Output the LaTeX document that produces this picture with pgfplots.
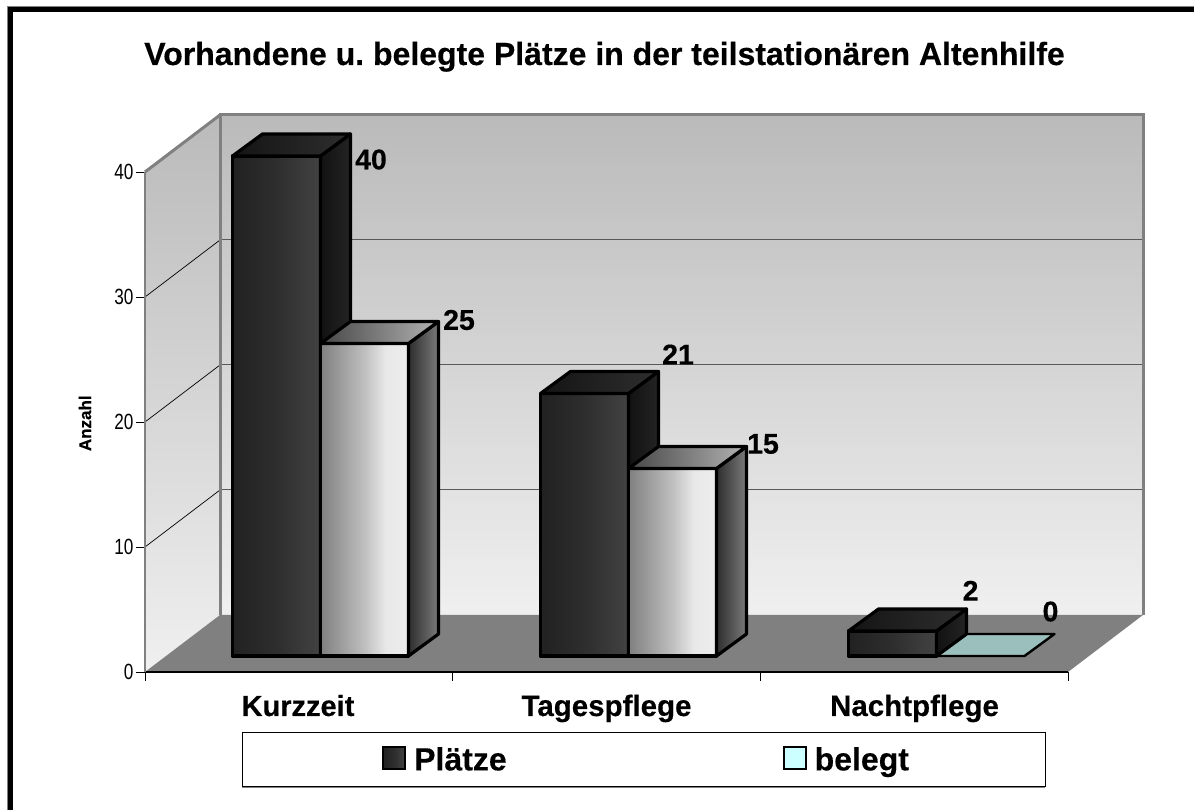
\documentclass[border=0pt]{standalone}
\usepackage{pgfplots}
\pgfplotsset{compat=1.18}
\usepackage{fontspec}
\setmainfont[BoldFeatures={FakeBold=0.35}]{Liberation Sans}
\frenchspacing
\definecolor{wallgray}{HTML}{808080}
\pgfdeclarehorizontalshading{darkfront}{100bp}{color(0bp)=(black!86); color(25bp)=(black!87); color(50bp)=(black!82); color(75bp)=(black!74); color(100bp)=(black!74)}
\pgfdeclarehorizontalshading{darkside}{100bp}{color(0bp)=(black!93); color(25bp)=(black!93); color(75bp)=(black!86); color(100bp)=(black!86)}
\pgfdeclarehorizontalshading{darktop}{100bp}{color(0bp)=(black!92); color(25bp)=(black!92); color(75bp)=(black!82); color(100bp)=(black!82)}
\pgfdeclarehorizontalshading{lightfront}{100bp}{color(0bp)=(black!50); color(25bp)=(black!50); color(50bp)=(black!25); color(62bp)=(black!9); color(75bp)=(black!7); color(100bp)=(black!7)}
\pgfdeclarehorizontalshading{lightside}{100bp}{color(0bp)=(black!82); color(25bp)=(black!82); color(75bp)=(black!52); color(100bp)=(black!52)}
\pgfdeclarehorizontalshading{lighttop}{100bp}{color(0bp)=(black!72); color(25bp)=(black!72); color(75bp)=(black!30); color(100bp)=(black!30)}
\pgfdeclareverticalshading{wallshade}{100bp}{color(0bp)=(black!6); color(25bp)=(black!6); color(75bp)=(black!27); color(100bp)=(black!27)}
% one 3D column: left x, right x, value, front/side/top shadings (x in picture units, y in data units)
\newcommand{\threedbar}[6]{%
 \pgfmathsetmacro\yb{1.28}\pgfmathsetmacro\yB{3.04}%
 \pgfmathsetmacro\yt{1.28+#3}\pgfmathsetmacro\yT{3.04+#3}%
 \pgfmathsetmacro\xA{#1+30}\pgfmathsetmacro\xB{#2+30}%
 \edef\tmp{\noexpand\addplot[forget plot,draw=black,line width=3.2pt,line join=round,shading=#4] coordinates {(#1,\yb)(#2,\yb)(#2,\yt)(#1,\yt)} -- cycle;
 \noexpand\addplot[forget plot,draw=black,line width=3.2pt,line join=round,shading=#5] coordinates {(#2,\yb)(\xB,\yB)(\xB,\yT)(#2,\yt)} -- cycle;
 \noexpand\addplot[forget plot,draw=black,line width=3.2pt,line join=round,shading=#6] coordinates {(#1,\yt)(#2,\yt)(\xB,\yT)(\xA,\yT)} -- cycle;}\tmp}
\begin{document}
\begin{tikzpicture}[x=1pt,y=1pt]
\begin{axis}[
  at={(145pt,138pt)},anchor=origin,
  scale only axis,width=923pt,height=500pt,
  xmin=145,xmax=1068,ymin=0,ymax=40,
  clip=false,axis on top,
  axis x line*=bottom,axis y line*=left,
  x axis line style={black,line width=1.2pt,-},
  y axis line style={wallgray,line width=1.6pt,-},
  xtick={145,452.67,760.33,1068},xticklabels={},
  ytick={0,10,20,30,40},
  tick align=outside,
  x tick style={black,line width=0.9pt},
  y tick style={black,line width=0.9pt},
  major tick length=9pt,
  yticklabel style={font=\fontsize{22}{22}\selectfont,xscale=0.78,inner sep=3pt},
  /pgf/number format/assume math mode=true,
  legend style={at={(axis cs:382,-7)},anchor=west,legend columns=2,draw=none,fill=none,
    font=\fontsize{32}{32}\selectfont\bfseries,inner sep=0pt},
  legend cell align=left,
]
% canvas and outer frame (top and left only)
\addplot[forget plot,draw=none,fill=white] coordinates {(0,53.76)(1194,53.76)(1194,-11.04)(0,-11.04)} -- cycle;
\addplot[forget plot,draw=black!50,line width=1pt] coordinates {(7.5,-11.04)(7.5,53.26)(1194,53.26)};
\addplot[forget plot,draw=black,line width=5pt] coordinates {(10.5,-11.04)(10.5,53)(1194,53)};
% walls and floor
\addplot[forget plot,draw=none,shading=wallshade] coordinates {(220,4.56)(1143,4.56)(1143,44.56)(220,44.56)} -- cycle;
\addplot[forget plot,draw=none,shading=wallshade] coordinates {(145,0)(220,4.56)(220,44.56)(145,40)} -- cycle;
\addplot[forget plot,draw=none,fill=wallgray] coordinates {(145,0)(1068,0)(1143,4.56)(220,4.56)} -- cycle;
% gridlines
\addplot[forget plot,black!65,line width=1pt] coordinates {(220,14.56)(1143,14.56)};
\addplot[forget plot,black!65,line width=1pt] coordinates {(220,24.56)(1143,24.56)};
\addplot[forget plot,black!65,line width=1pt] coordinates {(220,34.56)(1143,34.56)};
\addplot[forget plot,black,line width=0.7pt] coordinates {(145,10)(220,14.56)};
\addplot[forget plot,black,line width=0.7pt] coordinates {(145,20)(220,24.56)};
\addplot[forget plot,black,line width=0.7pt] coordinates {(145,30)(220,34.56)};
% wall edges
\addplot[forget plot,wallgray,line width=3pt] coordinates {(220,4.56)(220,44.56)(1143,44.56)(1143,4.56)};
\addplot[forget plot,wallgray,line width=3pt] coordinates {(145,40)(220,44.56)};
% columns
\threedbar{232.5}{320.5}{40}{darkfront}{darkside}{darktop}
\threedbar{320.5}{408.5}{25}{lightfront}{lightside}{lighttop}
\threedbar{540.5}{628.5}{21}{darkfront}{darkside}{darktop}
\threedbar{628.5}{716.5}{15}{lightfront}{lightside}{lighttop}
\addplot[forget plot,draw=black,line width=2.4pt,line join=round,fill={rgb,255:red,155;green,191;blue,189}] coordinates {(936.5,1.28)(1024.5,1.28)(1054.5,3.04)(966.5,3.04)} -- cycle;
\threedbar{848.5}{936.5}{2}{darkfront}{darkside}{darktop}
% legend box
\addplot[forget plot,draw=black!50,line width=1pt] coordinates {(242,-9.22)(1045,-9.22)};
\addplot[forget plot,draw=black,line width=0.9pt] coordinates {(242,-4.8)(1045,-4.8)(1045,-9.15)(242,-9.15)} -- cycle;
% value labels
\begin{scope}[every node/.style={font=\fontsize{28.5}{28.5}\selectfont\bfseries,inner sep=0pt}]
\node at (axis cs:371,41) {40};
\node at (axis cs:459,28.16) {25};
\node at (axis cs:678,25.4) {21};
\node at (axis cs:763,18.24) {15};
\node at (axis cs:970.5,6.5) {2};
\node at (axis cs:1050.5,4.84) {0};
\node[font=\fontsize{29}{29}\selectfont\bfseries,anchor=base] at (axis cs:298,-3.52) {Kurzzeit};
\node[font=\fontsize{29.5}{29.5}\selectfont\bfseries,anchor=base] at (axis cs:606.5,-3.52) {Tagespflege};
\node[font=\fontsize{29.5}{29.5}\selectfont\bfseries,anchor=base] at (axis cs:914.5,-3.52) {Nachtpflege};
\node[font=\fontsize{32}{32}\selectfont\bfseries,anchor=base] at (axis cs:604.5,48.56) {Vorhandene u. belegte Plätze in der teilstationären Altenhilfe};
\node[font=\fontsize{17}{17}\selectfont\bfseries,rotate=90] at (axis cs:85,19.9) {Anzahl};
\end{scope}
\addlegendimage{legend image code/.code={\draw[black,line width=2pt,shading=darkfront] (0pt,-10pt) rectangle (22pt,12pt);}}
\addlegendentry{\hspace*{6pt}Plätze\hspace*{274pt}}
\addlegendimage{legend image code/.code={\draw[black,line width=2pt,fill={rgb,255:red,204;green,255;blue,255}] (0pt,-10pt) rectangle (22pt,12pt);}}
\addlegendentry{\hspace*{6pt}belegt}
\end{axis}
\pgfresetboundingbox
\path[use as bounding box] (0pt,0pt) rectangle (1194pt,810pt);
\end{tikzpicture}
\end{document}
